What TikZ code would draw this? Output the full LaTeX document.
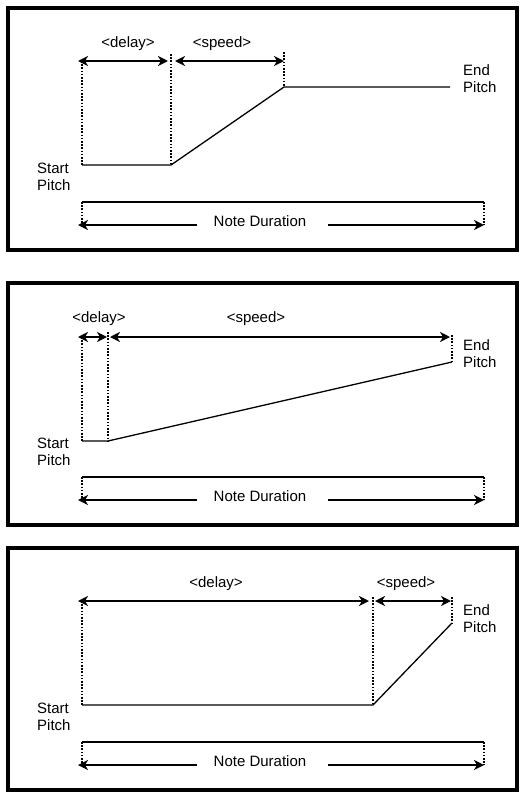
\documentclass[tikz,border=0pt]{standalone}
\usepackage{fontspec}
\setmainfont{Liberation Sans}
\usetikzlibrary{arrows.meta}

\begin{document}
\begin{tikzpicture}[
		x=1pt, y=-1pt,
		frame/.style={line width=4pt},
		span/.style={line width=2.4pt,{Stealth[length=10pt,width=10pt,inset=3pt]}-{Stealth[length=10pt,width=10pt,inset=3pt]}},
		half/.style={line width=2.4pt,-{Stealth[length=10pt,width=10pt,inset=3pt]}},
		bar/.style={line width=2.4pt},
		guide/.style={line width=2.4pt,dash pattern=on 1.6pt off 1.6pt},
		pitch/.style={line width=1.3pt},
		lbl/.style={inner sep=0pt,font=\fontsize{15}{17}\selectfont},
		side/.style={lbl,anchor=west,align=left}]

		\useasboundingbox (0,0) rectangle (527,798);

		% panel 1
		\draw[frame] (8,8) rectangle (517,250);
		\coordinate (t1) at (82,61);
		\coordinate (u1) at (171,54);
		\coordinate (v1) at (284,52);
		\coordinate (s1) at (82,165);
		\coordinate (d1) at (171,165);
		\coordinate (p1) at (284,87);
		\coordinate (e1) at (450,87);
		\draw[pitch] (s1) -- (d1) -- (p1) -- (e1);
		\draw[guide] (t1) -- (s1);
		\draw[guide] (u1) -- (d1);
		\draw[guide] (v1) -- (p1);
		\draw[span, shorten <=-4pt, shorten >=3pt] (t1) -- (u1 |- t1);
		\draw[span, shorten <=4pt] (u1 |- t1) -- (v1 |- t1);
		\node[lbl] (delay1) at (128,44) {<delay>};
		\node[lbl] (speed1) at (222,44) {<speed>};
		\node[side] (start1) at (37,177) {Start\\Pitch};
		\node[side] (end1) at (463,79) {End\\Pitch};
		\coordinate (na1) at (82,202);
		\coordinate (nb1) at (484,202);
		\coordinate (w1) at (82,225);
		\node[lbl] (dur1) at (260,221) {Note Duration};
		\draw[bar] (na1) -- (nb1);
		\draw[guide] (na1) -- (w1);
		\draw[guide] (nb1) -- (nb1 |- w1);
		\draw[half, shorten <=17pt, shorten >=-4pt] (w1 -| dur1.west) -- (w1);
		\draw[half, shorten <=22pt] (w1 -| dur1.east) -- (nb1 |- w1);

		% panel 2
		\begin{scope}[yshift=-275pt]
		\draw[frame] (8,8) rectangle (517,250);
		\coordinate (t2) at (82,62);
		\coordinate (u2) at (108,57);
		\coordinate (v2) at (452,60);
		\coordinate (s2) at (82,166);
		\coordinate (d2) at (108,166);
		\coordinate (p2) at (452,87);
		\draw[pitch] (s2) -- (d2) -- (p2);
		\draw[guide] (t2) -- (s2);
		\draw[guide] (u2) -- (d2);
		\draw[guide] (v2) -- (p2);
		\draw[span, shorten <=-4pt, shorten >=1pt] (t2) -- (u2 |- t2);
		\draw[span, shorten <=2pt, shorten >=2pt] (u2 |- t2) -- (v2 |- t2);
		\node[lbl] (delay2) at (99,44) {<delay>};
		\node[lbl] (speed2) at (256,44) {<speed>};
		\node[side] (start2) at (37,177) {Start\\Pitch};
		\node[side] (end2) at (463,79) {End\\Pitch};
		\coordinate (na2) at (82,202);
		\coordinate (nb2) at (484,202);
		\coordinate (w2) at (82,225);
		\node[lbl] (dur2) at (260,221) {Note Duration};
		\draw[bar] (na2) -- (nb2);
		\draw[guide] (na2) -- (w2);
		\draw[guide] (nb2) -- (nb2 |- w2);
		\draw[half, shorten <=17pt, shorten >=-4pt] (w2 -| dur2.west) -- (w2);
		\draw[half, shorten <=22pt] (w2 -| dur2.east) -- (nb2 |- w2);
		\end{scope}

		% panel 3
		\begin{scope}[yshift=-540pt]
		\draw[frame] (8,8) rectangle (517,250);
		\coordinate (t3) at (82,61);
		\coordinate (u3) at (373,57);
		\coordinate (v3) at (452,57);
		\coordinate (s3) at (82,165);
		\coordinate (d3) at (373,165);
		\coordinate (p3) at (452,83);
		\draw[pitch] (s3) -- (d3) -- (p3);
		\draw[guide] (t3) -- (s3);
		\draw[guide] (u3) -- (d3);
		\draw[guide] (v3) -- (p3);
		\draw[span, shorten <=-4pt, shorten >=4pt] (t3) -- (u3 |- t3);
		\draw[span, shorten <=2pt, shorten >=1pt] (u3 |- t3) -- (v3 |- t3);
		\node[lbl] (delay3) at (216,44) {<delay>};
		\node[lbl] (speed3) at (406,44) {<speed>};
		\node[side] (start3) at (37,177) {Start\\Pitch};
		\node[side] (end3) at (463,79) {End\\Pitch};
		\coordinate (na3) at (82,202);
		\coordinate (nb3) at (484,202);
		\coordinate (w3) at (82,225);
		\node[lbl] (dur3) at (260,221) {Note Duration};
		\draw[bar] (na3) -- (nb3);
		\draw[guide] (na3) -- (w3);
		\draw[guide] (nb3) -- (nb3 |- w3);
		\draw[half, shorten <=17pt, shorten >=-4pt] (w3 -| dur3.west) -- (w3);
		\draw[half, shorten <=22pt] (w3 -| dur3.east) -- (nb3 |- w3);
		\end{scope}

\end{tikzpicture}
\end{document}
